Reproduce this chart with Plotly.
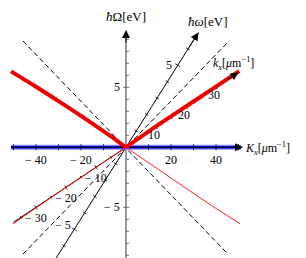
import plotly.graph_objects as go

# ---------------- data (display frame: K_x [μm^-1] horizontal, ħΩ [eV] vertical) ----------------
Kx_tick_vals = [-50, -40, -30, -20, -10, 10, 20, 30, 40, 50]
Kx_label_vals = [-40, -20, 20, 40]
Kx_labels = ["\u2212 40", "\u2212 20", "20", "40"]

Omega_tick_vals = [-9, -8, -7, -6, -5, -4, -3, -2, -1, 1, 2, 3, 4, 5, 6, 7, 8, 9]
Omega_label_vals = [5, -5]
Omega_labels = ["5", "\u2212 5"]

kx_tick_vals = [-35, -30, -25, -20, -15, -10, -5, 5, 10, 15, 20, 25, 30, 35]
kx_label_vals = [-30, -20, -10, 10, 20, 30]
kx_labels = ["\u2212 30", "\u2212 20", "\u2212 10", "10", "20", "30"]

w_tick_vals = [-6, -5, -4, -3, -2, -1, 1, 2, 3, 4, 5, 6]
w_label_vals = [-5, 5]
w_labels = ["\u2212 5", "5"]

# red dispersion branches (K_x, ħΩ)
red_thick_left_K = [-51.1, -40, -30, -20, -12, -6, -3, 0]
red_thick_left_W = [6.33, 5.05, 3.85, 2.62, 1.6, 0.82, 0.41, 0]
red_thick_right_K = [0, 15.6, 30, 40, 50.3]
red_thick_right_W = [0, 2.03, 3.82, 5.06, 6.35]
red_thin_left_K = [0, -20, -35, -50.2]
red_thin_left_W = [0, -2.5, -4.4, -6.37]
red_thin_right_K = [0, 13.5, 25, 38, 50.7]
red_thin_right_W = [0, -1.73, -3.2, -4.85, -6.37]

# dashed light lines (K_x, ħΩ)
dash1_K = [-45.8, 45.3]
dash1_W = [8.86, -8.9]
dash2_K = [-45.8, 45.8]
dash2_W = [-8.9, 8.86]

# blue band along K_x
blue_K = [-51.1, 51.1]
blue_W = [0, 0]

# axis extents
Kx_ext = [-51.1, 52.0]
Omega_ext = [-9.9, 9.78]
kx_ext = [-37.5, 37.5]
w_ext = [-7.0, 7.0]

# ---------------- projection / pixel geometry ----------------
PX_K = 2.25   # pixels per unit K_x
PX_W = 12.0   # pixels per eV (Ω)
ORIG_X, ORIG_Y = 118.0, 139.3
W, H = 306, 258
kx_dir = (1.3333, 0.16667)   # (K, Ω) per unit k_x
w_dir = (4.6, 1.367)         # (K, Ω) per unit ħω


def kx_pt(k):
    return kx_dir[0] * k, kx_dir[1] * k


def w_pt(w):
    return w_dir[0] * w, w_dir[1] * w


def px_off(dx, dy):
    # pixel offset (dy downward positive) -> data offset
    return dx / PX_K, -dy / PX_W


fig = go.Figure()

BLACK = "#000000"
FONT = "Liberation Serif"


def seg_trace(xs, ys, color, width, dash=None, shape="linear"):
    fig.add_trace(go.Scatter(x=xs, y=ys, mode="lines",
                             line=dict(color=color, width=width, dash=dash, shape=shape),
                             hoverinfo="skip", showlegend=False))


# Ω axis (gray)
seg_trace([0, 0], [Omega_ext[0], Omega_ext[1] - 0.5], "#9a9a9a", 2)
# Ω ticks
tx, ty = [], []
for v in Omega_tick_vals:
    if abs(v) == 5:
        a, _ = px_off(-3, 0)
        b, _ = px_off(3.5, 0)
    else:
        a, _ = px_off(0, 0)
        b, _ = px_off(3, 0)
    tx += [a, b, None]
    ty += [v, v, None]
seg_trace(tx, ty, "#555555", 0.8)

# dashed lines
seg_trace(dash1_K, dash1_W, BLACK, 1, "5px,3px")
seg_trace(dash2_K, dash2_W, BLACK, 1, "5px,3px")

# ħω axis
p0, p1 = w_pt(w_ext[0]), w_pt(w_ext[1])
seg_trace([p0[0], p1[0]], [p0[1], p1[1]], BLACK, 1)
nx, ny = 0.845, 0.534
tx, ty = [], []
for v in w_tick_vals:
    cx, cy = w_pt(v)
    L = 3 if abs(v) == 5 else 2
    a = px_off(-nx * L, -ny * L)
    b = px_off(nx * L, ny * L)
    tx += [cx + a[0], cx + b[0], None]
    ty += [cy + a[1], cy + b[1], None]
seg_trace(tx, ty, BLACK, 0.8)

# k_x axis
p0, p1 = kx_pt(kx_ext[0]), kx_pt(kx_ext[1])
seg_trace([p0[0], p1[0]], [p0[1], p1[1]], BLACK, 1)
nx, ny = 0.555, 0.832
tx, ty = [], []
for v in kx_tick_vals:
    cx, cy = kx_pt(v)
    L = 2.5 if v % 10 == 0 else 1.5
    a = px_off(-nx * L, -ny * L)
    b = px_off(nx * L, ny * L)
    tx += [cx + a[0], cx + b[0], None]
    ty += [cy + a[1], cy + b[1], None]
seg_trace(tx, ty, BLACK, 0.8)

# blue band (tube look)
seg_trace(blue_K, blue_W, "#8088ff", 5)
seg_trace(blue_K, blue_W, "#1010ee", 2.5)
# K_x axis line + ticks
seg_trace([Kx_ext[0], Kx_ext[1] - 2], [0, 0], BLACK, 1)
tx, ty = [], []
for v in Kx_tick_vals:
    _, d = px_off(0, 3)
    tx += [v, v, None]
    ty += [d, -d, None]
seg_trace(tx, ty, BLACK, 0.8)

# red branches
seg_trace(red_thin_left_K, red_thin_left_W, "#ff0000", 1, shape="spline")
seg_trace(red_thin_right_K, red_thin_right_W, "#ff2020", 1, shape="spline")
seg_trace(red_thick_left_K, red_thick_left_W, "#ee0000", 4, shape="spline")
seg_trace(red_thick_right_K, red_thick_right_W, "#ee0000", 4, shape="spline")

annotations = []


def arrow(head, tail, color=BLACK):
    annotations.append(dict(x=head[0], y=head[1], ax=tail[0], ay=tail[1],
                            xref="x", yref="y", axref="x", ayref="y",
                            text="", showarrow=True, arrowhead=2, arrowsize=1.6,
                            arrowwidth=1, arrowcolor=color, standoff=0, startstandoff=0))


arrow((0, Omega_ext[1]), (0, Omega_ext[1] - 1.2))
arrow((Kx_ext[1], 0), (Kx_ext[1] - 5, 0))
arrow(kx_pt(kx_ext[1]), kx_pt(kx_ext[1] - 4))
arrow(w_pt(w_ext[1]), w_pt(w_ext[1] - 1))


def label(x, y, text, size=12, xanchor="center", yanchor="middle"):
    annotations.append(dict(x=x, y=y, xref="x", yref="y", text=text, showarrow=False,
                            xanchor=xanchor, yanchor=yanchor, borderpad=0,
                            font=dict(family=FONT, size=size, color=BLACK)))


# K_x tick labels
for v, t in zip(Kx_label_vals, Kx_labels):
    label(v, px_off(0, 13)[1], t)
# Ω tick labels
for v, t in zip(Omega_label_vals, Omega_labels):
    label(px_off(-5, 0)[0], v, t, xanchor="right")
# k_x tick labels
for v, t in zip(kx_label_vals, kx_labels):
    cx, cy = kx_pt(v)
    off = px_off(-2, 7.5) if v > 0 else px_off(0, 10.5)
    label(cx + off[0], cy + off[1], t)
# ħω tick labels
for v, t in zip(w_label_vals, w_labels):
    cx, cy = w_pt(v)
    off = px_off(-5, 0) if v > 0 else px_off(-2, -4)
    label(cx + off[0], cy + off[1], t, xanchor="right")

# axis titles
label(0, px_off(0, 8 - ORIG_Y)[1], "<i>ħ</i>\u03a9[eV]", size=13)
label(px_off(200 - ORIG_X, 0)[0], px_off(0, 13 - ORIG_Y)[1], "<i>ħω</i>[eV]", size=13)
label(px_off(204 - ORIG_X, 0)[0], px_off(0, 55 - ORIG_Y)[1],
      "<i>k</i><sub><i>x</i></sub>[<i>\u03bc</i>m<sup>\u22121</sup>]", size=12, xanchor="left")
label(px_off(236 - ORIG_X, 0)[0], px_off(0, 140 - ORIG_Y)[1],
      "<i>K</i><sub><i>x</i></sub>[<i>\u03bc</i>m<sup>\u22121</sup>]", size=12, xanchor="left")

fig.update_layout(
    width=W, height=H,
    margin=dict(l=0, r=0, t=0, b=0),
    paper_bgcolor="white", plot_bgcolor="white",
    xaxis=dict(range=[-ORIG_X / PX_K, (W - ORIG_X) / PX_K], visible=False, fixedrange=True),
    yaxis=dict(range=[-(H - ORIG_Y) / PX_W, ORIG_Y / PX_W], visible=False, fixedrange=True),
    annotations=annotations,
    showlegend=False,
)

fig.write_html("out.html")
